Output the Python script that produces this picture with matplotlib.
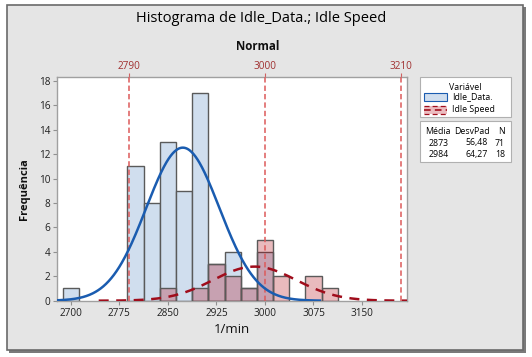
import numpy as np
import matplotlib
matplotlib.use('Agg')
import matplotlib.pyplot as plt
from matplotlib.patches import Rectangle
from matplotlib.lines import Line2D

plt.rcParams['font.family'] = ['Open Sans', 'DejaVu Sans']

# histogram bins (centres, width 25)
bin_centers = [2700, 2725, 2750, 2775, 2800, 2825, 2850, 2875, 2900,
               2925, 2950, 2975, 3000, 3025, 3050, 3075, 3100]
bin_width = 25
idle_data_counts = [1, 0, 0, 0, 11, 8, 13, 9, 17, 3, 4, 1, 4, 0, 0, 0, 0]
idle_speed_counts = [0, 0, 0, 0, 0, 0, 1, 0, 1, 3, 2, 1, 5, 2, 0, 2, 1]

series_names = ["Idle_Data.", "Idle Speed"]
means = [2873, 2984]
std_devs = [56.48, 64.27]
counts_n = [71, 18]
mean_labels = ["2873", "2984"]
sd_labels = ["56,48", "64,27"]

ref_lines = [2790, 3000, 3210]
x_ticks = [2700, 2775, 2850, 2925, 3000, 3075, 3150]
y_ticks = [0, 2, 4, 6, 8, 10, 12, 14, 16, 18]

W, H = 532, 357
fig = plt.figure(figsize=(W / 100, H / 100), dpi=100)
fig.patch.set_facecolor('white')

# background panel in pixel coordinates
bg = fig.add_axes([0, 0, 1, 1], zorder=0)
bg.set_xlim(0, W)
bg.set_ylim(H, 0)
bg.axis('off')
bg.add_patch(Rectangle((9, 7), 517, 346, facecolor='#7a7a7a', edgecolor='none'))
bg.add_patch(Rectangle((7, 5), 516, 345, facecolor='#e5e5e5', edgecolor='#6a6a6a', lw=1.2))

bg.text(261, 18.5, "Histograma de Idle_Data.; Idle Speed", ha='center', va='center',
        fontsize=10.5, color='#000000')
bg.text(258, 46, "Normal", ha='center', va='center', fontsize=8.3,
        fontweight='bold', color='#101010')

blue_fill = '#d0deee'
red_fill = (0.69, 0.0, 0.05, 0.27)
edge_col = '#5a5a5a'
blue_line = '#1a5cb0'
red_line = '#a00d1c'
fs = 6.3

# legend box
bg.add_patch(Rectangle((420, 77), 91, 40, facecolor='white', edgecolor='#b0b0b0', lw=0.8))
bg.text(465, 87, "Variável", ha='center', va='center', fontsize=fs)
bg.add_patch(Rectangle((424, 93), 23, 8, facecolor=blue_fill, edgecolor=blue_line, lw=0.8))
bg.add_patch(Rectangle((424, 106), 23, 8, facecolor='#ebbcc0', edgecolor='none'))
bg.add_line(Line2D([424, 447], [106, 106], color=red_line, lw=0.9, ls=(0, (4, 2.5))))
bg.add_line(Line2D([424, 447], [114, 114], color=red_line, lw=0.9, ls=(0, (4, 2.5))))
bg.add_line(Line2D([424, 447], [110, 110], color=red_line, lw=1.2, ls=(0, (4, 2.5))))
bg.text(452, 97, series_names[0], ha='left', va='center', fontsize=fs)
bg.text(452, 110, series_names[1], ha='left', va='center', fontsize=fs)

# stats box
bg.add_patch(Rectangle((420, 121), 91, 41, facecolor='white', edgecolor='#b0b0b0', lw=0.8))
bg.text(438, 131, "Média", ha='center', va='center', fontsize=fs)
bg.text(472, 131, "DesvPad", ha='center', va='center', fontsize=fs)
bg.text(501, 131, "N", ha='center', va='center', fontsize=fs)
for i in range(2):
    y = 143 + i * 11.5
    bg.text(449, y, mean_labels[i], ha='right', va='center', fontsize=fs)
    bg.text(488, y, sd_labels[i], ha='right', va='center', fontsize=fs)
    bg.text(505, y, str(counts_n[i]), ha='right', va='center', fontsize=fs)

# main plot
ax = fig.add_axes([57.3 / W, 1 - 300.7 / H, 350 / W, 223.4 / H], zorder=1)
ax.set_facecolor('white')

bc = np.array(bin_centers)
blue = np.array(idle_data_counts)
red = np.array(idle_speed_counts)
ax.bar(bc[blue > 0], blue[blue > 0], width=bin_width, color=blue_fill,
       edgecolor=edge_col, linewidth=1, zorder=2)
ax.bar(bc[red > 0], red[red > 0], width=bin_width, color=red_fill,
       edgecolor=edge_col, linewidth=1, zorder=3)

xmin, xmax = 2679, 3220
for i, (m, s, n) in enumerate(zip(means, std_devs, counts_n)):
    xs = np.linspace(max(xmin, m - 3.75 * s), min(xmax, m + 3.75 * s), 400)
    ys = n * bin_width * np.exp(-0.5 * ((xs - m) / s) ** 2) / (s * np.sqrt(2 * np.pi))
    if i == 0:
        ax.plot(xs, ys, color=blue_line, lw=1.8, zorder=5)
    else:
        ax.plot(xs, ys, color=red_line, lw=1.8, ls=(0, (4, 3)), zorder=5)

for r in ref_lines:
    ax.axvline(r, color='#dd5a5a', lw=1.1, ls=(0, (3.5, 2)), zorder=4)

ax.set_xlim(xmin, xmax)
ax.set_ylim(0, 18.3)
ax.set_xticks(x_ticks)
ax.set_yticks(y_ticks)
ax.tick_params(axis='both', labelsize=7.2, colors='#909090', labelcolor='#202020',
               length=3, width=0.8, pad=2)
for sp in ax.spines.values():
    sp.set_color('#a0a0a0')
    sp.set_linewidth(1)

top = ax.secondary_xaxis('top')
top.set_xticks(ref_lines)
top.tick_params(labelsize=7.2, colors='#d06060', labelcolor='#a03030', length=3, pad=1)
top.spines['top'].set_visible(False)

ax.set_xlabel("1/min", fontsize=9.5, fontweight='medium', labelpad=3, color='#101010')
ax.set_ylabel("Frequência", fontsize=8, fontweight='bold', labelpad=6, color='#101010')

fig.savefig("out.png", dpi=100, facecolor=fig.get_facecolor())
plt.close(fig)
